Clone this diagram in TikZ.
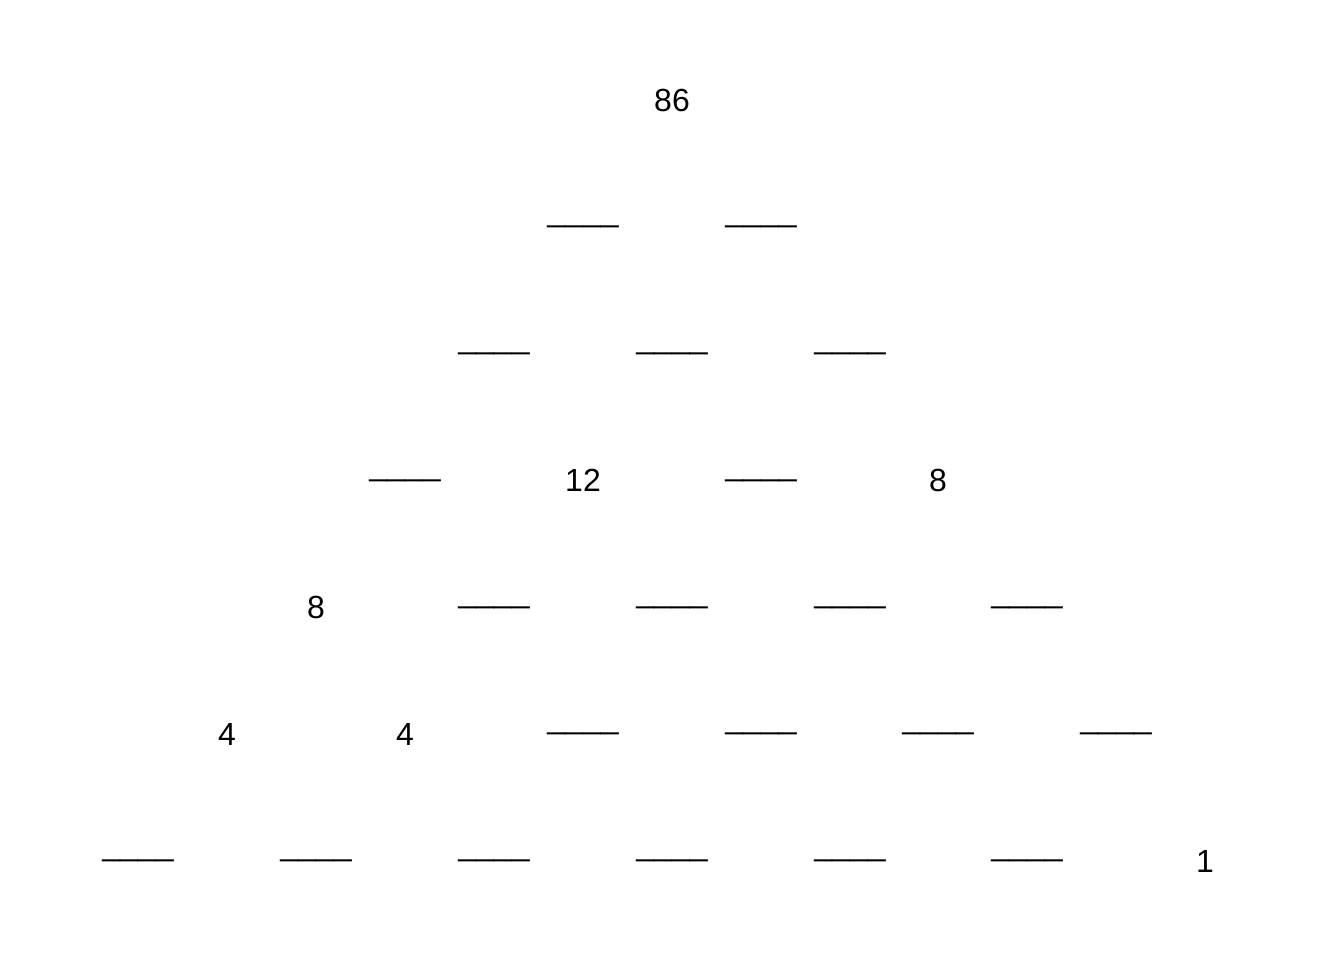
\documentclass[tikz,border=0pt]{standalone}
\usepackage{fontspec}
\setmainfont{Liberation Sans}
\tikzset{
  num/.style={anchor=base, inner sep=0pt, font=\fontsize{18.2}{20}\selectfont},
  blank/.style={anchor=base, inner sep=0pt, font=\fontsize{18.2}{20}\selectfont}
}
\begin{document}
\begin{tikzpicture}[x=0.02cm, y=-0.02cm]
        \useasboundingbox (0,0) rectangle (1344,960);

        % Row 1
        \node[num] (a1) at (672, 111) {86};

        % Row 2
        \node[blank] (b1) at (583, 221) {\_\_\_\_};
        \node[blank] (b2) at (761, 221) {\_\_\_\_};

        % Row 3
        \node[blank] (c1) at (494, 348) {\_\_\_\_};
        \node[blank] (c2) at (672, 348) {\_\_\_\_};
        \node[blank] (c3) at (850, 348) {\_\_\_\_};

        % Row 4
        \node[blank] (d1) at (405, 475) {\_\_\_\_};
        \node[num] (d2) at (583, 491) {12};
        \node[blank] (d3) at (761, 475) {\_\_\_\_};
        \node[num] (d4) at (938, 491) {8};

        % Row 5
        \node[num] (e1) at (316, 618) {8};
        \node[blank] (e2) at (494, 602) {\_\_\_\_};
        \node[blank] (e3) at (672, 602) {\_\_\_\_};
        \node[blank] (e4) at (850, 602) {\_\_\_\_};
        \node[blank] (e5) at (1027, 602) {\_\_\_\_};

        % Row 6
        \node[num] (f1) at (227, 745) {4};
        \node[num] (f2) at (405, 745) {4};
        \node[blank] (f3) at (583, 728) {\_\_\_\_};
        \node[blank] (f4) at (761, 728) {\_\_\_\_};
        \node[blank] (f5) at (938, 728) {\_\_\_\_};
        \node[blank] (f6) at (1116, 728) {\_\_\_\_};

        % Row 7
        \node[blank] (g1) at (138, 855) {\_\_\_\_};
        \node[blank] (g2) at (316, 855) {\_\_\_\_};
        \node[blank] (g3) at (494, 855) {\_\_\_\_};
        \node[blank] (g4) at (672, 855) {\_\_\_\_};
        \node[blank] (g5) at (850, 855) {\_\_\_\_};
        \node[blank] (g6) at (1027, 855) {\_\_\_\_};
        \node[num] (g7) at (1205, 872) {1};
\end{tikzpicture}
\end{document}
